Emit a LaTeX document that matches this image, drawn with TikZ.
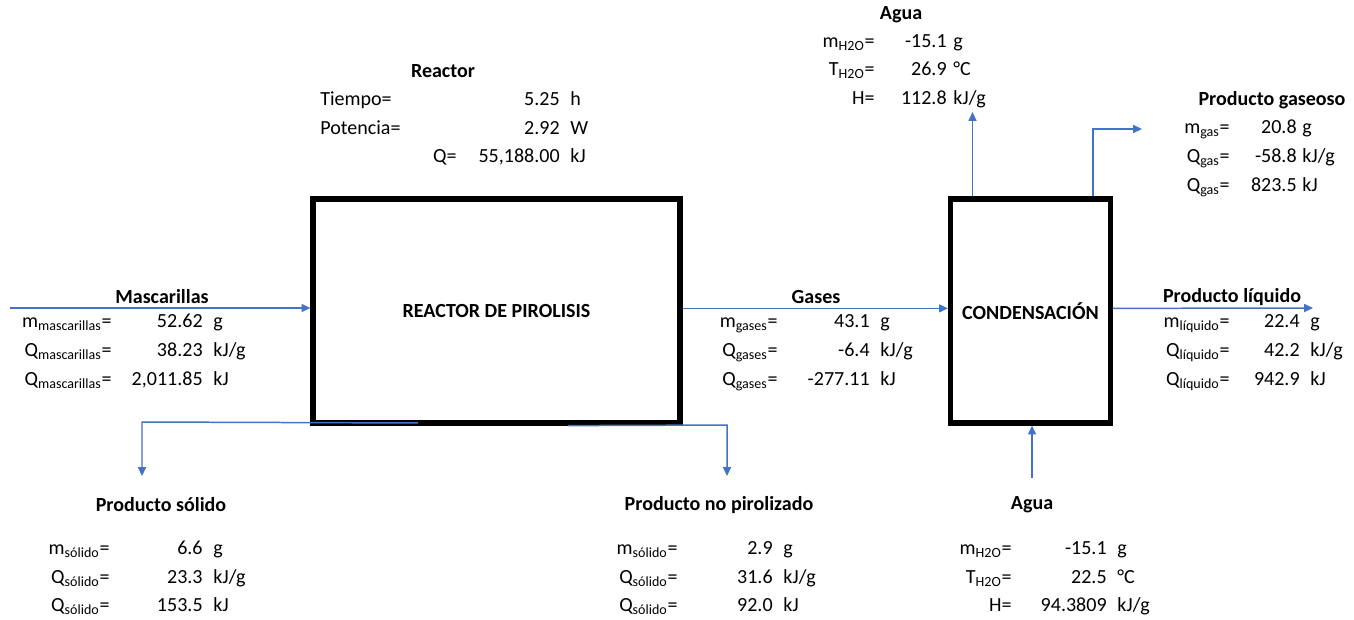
\documentclass[tikz,border=0pt]{standalone}
\usepackage{fontspec}
\setmainfont{Carlito}
\usepackage{tikz}
\usetikzlibrary{positioning,calc,arrows.meta}

\definecolor{flowblue}{HTML}{4472C4}

% one line of a data block: name, y, label x, label, value x, value, unit x, unit
\newcommand{\drow}[8]{%
  \node[lbl] (#1l) at (#3,#2) {#4};
  \node[lbl] (#1v) at (#5,#2) {#6};
  \node[unit] (#1u) at (#7,#2) {#8};
}
\newcommand{\sub}[1]{\textsubscript{#1}}

\begin{document}
\begin{tikzpicture}[
  x=0.02cm, y=-0.02cm,
  every node/.style={font=\fontsize{11.4}{13.7}\selectfont},
  box/.style={draw, line width=3pt, inner sep=0pt, font=\fontsize{11.4}{13.7}\selectfont\bfseries},
  title/.style={inner sep=0pt, font=\fontsize{11.4}{13.7}\selectfont\bfseries},
  lbl/.style={anchor=east, inner sep=0pt, text height=8pt, text depth=2.5pt},
  unit/.style={anchor=west, inner sep=0pt, text height=8pt, text depth=2.5pt},
  flow/.style={-{Triangle[length=5pt,width=4.5pt]}, draw=flowblue, line width=0.85pt}
]
\useasboundingbox (0,0) rectangle (1354,619);

% Blocks
\node[box, minimum width=7.34cm, minimum height=4.48cm] (reactor) at (496.5,311) {REACTOR DE PIROLISIS};
\node[box, minimum width=3.2cm, minimum height=4.48cm] (cond) at (1030.5,311) {CONDENSACIÓN};

% Reactor data
\node[title] (reactort) at (443,71) {Reactor};
\node[unit] (tiempol) at (320,101) {Tiempo=};
\node[lbl] (tiempov) at (560,101) {5.25};
\node[unit] (tiempou) at (570,101) {h};
\node[unit] (potl) at (320,130) {Potencia=};
\node[lbl] (potv) at (560,130) {2.92};
\node[unit] (potu) at (570,130) {W};
\drow{qr}{158}{457}{Q=}{560}{55,188.00}{570}{kJ}

% Agua (salida)
\node[title] (aguat) at (901,15) {Agua};
\drow{aga}{43}{875}{m\sub{H2O}=}{947}{-15.1}{953}{g}
\drow{agb}{71}{875}{T\sub{H2O}=}{947}{26.9}{953}{°C}
\drow{agc}{100}{875}{H=}{947}{112.8}{953}{kJ/g}

% Producto gaseoso
\node[title] (gast) at (1272,100) {Producto gaseoso};
\drow{gsa}{129}{1230}{m\sub{gas}=}{1297}{20.8}{1302}{g}
\drow{gsb}{158}{1230}{Q\sub{gas}=}{1297}{-58.8}{1302}{kJ/g}
\drow{gsc}{187}{1230}{Q\sub{gas}=}{1297}{823.5}{1302}{kJ}

% Mascarillas
\node[title] (mast) at (162,297) {Mascarillas};
\drow{msa}{323}{112}{m\sub{mascarillas}=}{203}{52.62}{213}{g}
\drow{msb}{352}{112}{Q\sub{mascarillas}=}{203}{38.23}{213}{kJ/g}
\drow{msc}{381}{112}{Q\sub{mascarillas}=}{203}{2,011.85}{213}{kJ}

% Gases
\node[title] (gasest) at (816,297) {Gases};
\drow{gea}{323}{778}{m\sub{gases}=}{870}{43.1}{880}{g}
\drow{geb}{352}{778}{Q\sub{gases}=}{870}{-6.4}{880}{kJ/g}
\drow{gec}{381}{778}{Q\sub{gases}=}{870}{-277.11}{880}{kJ}

% Producto liquido
\node[title] (liqt) at (1232,297) {Producto líquido};
\drow{lqa}{323}{1230}{m\sub{líquido}=}{1300}{22.4}{1310}{g}
\drow{lqb}{352}{1230}{Q\sub{líquido}=}{1300}{42.2}{1310}{kJ/g}
\drow{lqc}{381}{1230}{Q\sub{líquido}=}{1300}{942.9}{1310}{kJ}

% Producto solido
\node[title] (solt) at (161,505) {Producto sólido};
\drow{sla}{550}{110}{m\sub{sólido}=}{203}{6.6}{213}{g}
\drow{slb}{579}{110}{Q\sub{sólido}=}{203}{23.3}{213}{kJ/g}
\drow{slc}{607}{110}{Q\sub{sólido}=}{203}{153.5}{213}{kJ}

% Producto no pirolizado
\node[title] (npt) at (719,505) {Producto no pirolizado};
\drow{npa}{550}{678}{m\sub{sólido}=}{773}{2.9}{783}{g}
\drow{npb}{579}{678}{Q\sub{sólido}=}{773}{31.6}{783}{kJ/g}
\drow{npc}{607}{678}{Q\sub{sólido}=}{773}{92.0}{783}{kJ}

% Agua (entrada)
\node[title] (aguabt) at (1032,505) {Agua};
\drow{aba}{550}{1012}{m\sub{H2O}=}{1107}{-15.1}{1117}{g}
\drow{abb}{579}{1012}{T\sub{H2O}=}{1107}{22.5}{1117}{°C}
\drow{abc}{607}{1012}{H=}{1107}{94.3809}{1117}{kJ/g}

% Flow ends
\coordinate (masin) at (10,308);
\coordinate (liqend) at (1313,308);
\coordinate (aguaout) at (972.5,112);
\coordinate (gaskink) at (1093,129);
\coordinate (gasend) at (1142,129);
\coordinate (aguain) at (1032,478);
\coordinate (solkink) at (142,422);
\coordinate (solend) at (142,476);
\coordinate (npkink) at (727,425);
\coordinate (npend) at (727,476);

% Arrows
\draw[flow] (masin) -- (masin -| reactor.west);
\draw[flow] ([yshift=1.5pt]reactor.east) -- ([yshift=1.5pt]cond.west);
\draw[flow] ([yshift=1.5pt]cond.east) -- (liqend);
\draw[flow] (aguaout |- cond.north) -- (aguaout);
\draw[flow] (gaskink |- cond.north) -- (gaskink) -- (gasend);
\draw[flow] (aguain) -- (aguain |- cond.south);
\draw[flow] ([xshift=-1.57cm,yshift=1.5pt]reactor.south) -- (solkink) -- (solend);
\draw[flow] ([xshift=1.43cm]reactor.south) -- (npkink) -- (npend);

\end{tikzpicture}
\end{document}
